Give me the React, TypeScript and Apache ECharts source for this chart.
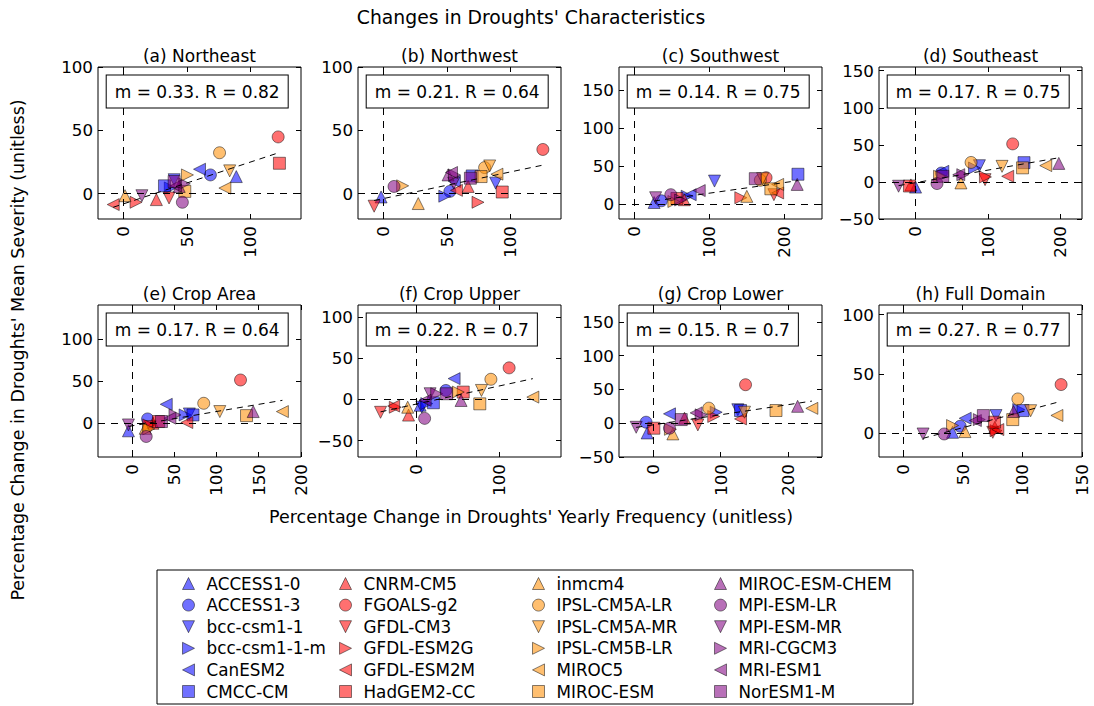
import React, { useEffect, useRef } from "react";
import * as echarts from "echarts";

const FONT = '"DejaVu Sans", sans-serif';

// CMIP5 models, grouped six per colour
const MODELS = [
  "ACCESS1-0", "ACCESS1-3", "bcc-csm1-1", "bcc-csm1-1-m", "CanESM2", "CMCC-CM",
  "CNRM-CM5", "FGOALS-g2", "GFDL-CM3", "GFDL-ESM2G", "GFDL-ESM2M", "HadGEM2-CC",
  "inmcm4", "IPSL-CM5A-LR", "IPSL-CM5A-MR", "IPSL-CM5B-LR", "MIROC5", "MIROC-ESM",
  "MIROC-ESM-CHEM", "MPI-ESM-LR", "MPI-ESM-MR", "MRI-CGCM3", "MRI-ESM1", "NorESM1-M",
];
const GROUP_COLORS = [
  "rgba(0,0,255,0.7)",
  "rgba(255,0,0,0.7)",
  "rgba(255,140,0,0.7)",
  "rgba(128,0,128,0.7)",
];
const EDGE = "rgba(0,0,0,0.6)";
const SHAPES = ["up", "circle", "down", "right", "left", "square"];

const PANEL_TITLES = [
  "(a) Northeast", "(b) Northwest", "(c) Southwest", "(d) Southeast",
  "(e) Crop Area", "(f) Crop Upper", "(g) Crop Lower", "(h) Full Domain",
];
const SLOPES = [0.33, 0.21, 0.14, 0.17, 0.17, 0.22, 0.15, 0.27];
const CORRS = [0.82, 0.64, 0.75, 0.75, 0.64, 0.7, 0.7, 0.77];

const X_MIN = [-20, -20, -20, -50, -40, -70, -50, -20];
const X_MAX = [140, 140, 250, 230, 200, 175, 250, 150];
const Y_MIN = [-20, -20, -20, -50, -40, -70, -50, -20];
const Y_MAX = [100, 100, 180, 155, 140, 115, 175, 108];
const X_TICKS = [
  [0, 50, 100], [0, 50, 100], [0, 100, 200], [0, 100, 200],
  [0, 50, 100, 150, 200], [0, 100], [0, 100, 200], [0, 50, 100, 150],
];
const Y_TICKS = [
  [0, 50, 100], [0, 50, 100], [0, 50, 100, 150], [-50, 0, 50, 100, 150],
  [0, 50, 100], [-50, 0, 50, 100], [-50, 0, 50, 100, 150], [0, 50, 100],
];

// [frequency change %, severity change %] per model, in MODELS order
const NORTHEAST = [
  [89, 13.5], [68.6, 14.8], [40, 11], [37, 4.5], [60, 19.3], [32.4, 6.2],
  [26, -4.7], [122, 44.8], [36, -3.4], [10, -6.8], [-8, -8.6], [123, 24],
  [1.3, -1.6], [75.8, 32.3], [83.8, 18], [50.5, 14.8], [80, 4.4], [48.4, 1.8],
  [44, 5.7], [46.5, -6.8], [14.6, -1.6], [48, 7.8], [41, 6], [40, 9.6],
];
const NORTHWEST = [
  [-1.8, -2.6], [52.4, 1.8], [88.5, 8.3], [48.4, -2], [56, 9.6], [70, 14],
  [66.8, 5.7], [125.7, 34.9], [-7.3, -9.9], [74.6, -6.8], [57.6, 2.6], [93.7, 1.3],
  [27.5, -7.8], [79.8, 20.6], [83.8, 21.9], [15.2, 6.2], [89.5, 15.4], [77, 13.5],
  [51, 14.8], [8.4, 5.7], [55.5, 8.3], [56, 14.8], [53.7, 16.7], [68.6, 12.2],
];
const SOUTHWEST = [
  [26.7, 1.7], [36.4, 4], [107, 29.9], [70.7, 10], [74.7, 12], [218, 38.9],
  [66.7, 5.4], [175.6, 34.4], [186, 12], [142, 8], [191, 14.3], [57, 7],
  [150, 9.8], [168, 31], [171, 33], [53, 3], [191, 25.5], [182, 19.7],
  [217, 25.5], [48.9, 12], [28.7, 8], [62, 5], [86.7, 17.4], [161.3, 33.1],
];
const SOUTHEAST = [
  [0.4, -7], [36, 12], [88.5, 21.9], [81.7, 18.8], [38, 14.3], [150, 26],
  [-6, -4], [134.4, 51.3], [96.3, 3.1], [96.8, 6.7], [127.5, 7.6], [-8, -5.5],
  [63, -1.3], [77, 26.3], [119.7, 21], [33.5, 7.6], [180, 22], [148, 19],
  [198, 25], [30, -2.2], [-23, -5.8], [65.6, 9.8], [60, 9.8], [38, 7.6],
];
const CROP_AREA = [
  [-4, -9], [18.6, 5.1], [68, 11], [63, 9.8], [40.7, 22.4], [72.3, 9.8],
  [25, 0], [128.5, 51.2], [21.7, -4], [20, -2], [65, 0.8], [31.6, 2],
  [15.8, -6], [85, 23.6], [104, 13.8], [20, -6.7], [178, 13.8], [135.6, 9],
  [143.5, 13.8], [17, -15.7], [-4, -2], [51, 9.8], [45, 6], [35, 2],
];
const CROP_UPPER = [
  [5, -7], [36, 11], [7, -9.4], [13, -5], [46, 25.4], [21, -4],
  [-9, -19], [112.4, 38.5], [-42.8, -15.6], [-25, -9.4], [-27, -8], [57, 9],
  [-10, -9.4], [90.4, 24.6], [79, 11], [51, 9], [141, 2.9], [77, -5.3],
  [54.4, -1.2], [10.4, -23], [17, 7], [25, 7], [11, -1], [37, 7],
];
const CROP_LOWER = [
  [-8.4, -14.4], [-10, 1.5], [125.6, 20], [93.6, 16.3], [24.6, 13.9], [129.6, 18.8],
  [46.8, 7.4], [137, 57], [66.5, -2.5], [90, 10], [129.6, 6.4], [1.5, -7.4],
  [29.6, -15.8], [82.8, 22.3], [135.5, 16.3], [26, -9], [235, 22], [182, 18.8],
  [214, 25], [24.6, -7.4], [-24.6, -6], [71.4, 12.4], [64, 15.3], [42, 5.4],
];
const FULL_DOMAIN = [
  [41.6, 0.8], [48, 5.9], [78, 14.9], [97, 20], [52.2, 12.6], [100.6, 19.1],
  [77, 5], [132.5, 41], [75.3, 0.8], [78, 2.2], [79.5, 3.1], [76.7, 9.3],
  [52, 1.4], [96.3, 28.9], [107, 19], [41.6, 6.5], [129, 15], [92, 11.5],
  [92.7, 18.3], [34.6, -0.6], [16.9, -0.6], [64, 11.5], [60.7, 10.7], [67.4, 14.9],
];
const PANELS = [
  NORTHEAST, NORTHWEST, SOUTHWEST, SOUTHEAST,
  CROP_AREA, CROP_UPPER, CROP_LOWER, FULL_DOMAIN,
];

// layout
const GRID_LEFTS = [98, 358, 619, 879];
const ROW_TOPS = [67, 305];
const GRID_W = 203;
const GRID_H = 152;

const SYMBOLS: Record<string, { symbol: string; rotate: number; icon: string }> = {
  up: { symbol: "triangle", rotate: 0, icon: "path://M5,0L10,10L0,10Z" },
  circle: { symbol: "circle", rotate: 0, icon: "circle" },
  down: { symbol: "triangle", rotate: 180, icon: "path://M0,0L10,0L5,10Z" },
  right: { symbol: "triangle", rotate: -90, icon: "path://M0,0L10,5L0,10Z" },
  left: { symbol: "triangle", rotate: 90, icon: "path://M10,0L0,5L10,10Z" },
  square: { symbol: "rect", rotate: 0, icon: "path://M0,0L10,0L10,10L0,10Z" },
};

const fmt = (v: number) => (v < 0 ? "\u2212" + Math.abs(v) : String(v));

function fitLine(points: number[][], m: number) {
  const n = points.length;
  const mx = points.reduce((s, p) => s + p[0], 0) / n;
  const my = points.reduce((s, p) => s + p[1], 0) / n;
  const b = my - m * mx;
  const xs = points.map((p) => p[0]);
  const x0 = Math.min(...xs);
  const x1 = Math.max(...xs);
  return [
    [x0, m * x0 + b],
    [x1, m * x1 + b],
  ];
}

function buildOption() {
  const grid: any[] = [];
  const xAxis: any[] = [];
  const yAxis: any[] = [];
  const series: any[] = [];
  const graphic: any[] = [];

  const tickStyle = (values: number[]) => ({
    show: true,
    inside: true,
    length: 5,
    lineStyle: { color: "#000", width: 1 },
    customValues: values,
  });

  PANELS.forEach((points, i) => {
    const left = GRID_LEFTS[i % 4];
    const top = ROW_TOPS[Math.floor(i / 4)];
    grid.push({
      left, top, width: GRID_W, height: GRID_H,
      show: true, borderColor: "#000", borderWidth: 1, backgroundColor: "#fff",
      containLabel: false, outerBoundsMode: "none",
    });
    const xBase = {
      type: "value", gridIndex: i, min: X_MIN[i], max: X_MAX[i],
      axisLine: { show: false, onZero: false }, splitLine: { show: false },
      axisTick: tickStyle(X_TICKS[i]),
    };
    const yBase = {
      type: "value", gridIndex: i, min: Y_MIN[i], max: Y_MAX[i],
      axisLine: { show: false, onZero: false }, splitLine: { show: false },
      axisTick: tickStyle(Y_TICKS[i]),
    };
    xAxis.push({
      ...xBase, position: "bottom",
      axisLabel: {
        show: true, customValues: X_TICKS[i], rotate: 90, margin: 7,
        color: "#000", fontSize: 16.7, fontFamily: FONT, formatter: fmt,
      },
    });
    xAxis.push({ ...xBase, position: "top", axisLabel: { show: false } });
    yAxis.push({
      ...yBase, position: "left",
      axisLabel: {
        show: true, customValues: Y_TICKS[i], margin: 5,
        color: "#000", fontSize: 16.7, fontFamily: FONT, formatter: fmt,
      },
    });
    yAxis.push({ ...yBase, position: "right", axisLabel: { show: false } });

    points.forEach((pt, j) => {
      const shp = SYMBOLS[SHAPES[j % 6]];
      series.push({
        type: "scatter",
        name: MODELS[j],
        xAxisIndex: 2 * i,
        yAxisIndex: 2 * i,
        data: [pt],
        symbol: shp.symbol,
        symbolRotate: shp.rotate,
        symbolSize: 12,
        itemStyle: {
          color: GROUP_COLORS[Math.floor(j / 6)],
          borderColor: EDGE,
          borderWidth: 1,
        },
        z: 2,
      });
    });

    series.push({
      type: "line",
      xAxisIndex: 2 * i,
      yAxisIndex: 2 * i,
      data: fitLine(points, SLOPES[i]),
      symbol: "none",
      silent: true,
      lineStyle: { color: "#000", width: 1, type: [6, 5] },
      z: 4,
      markLine: {
        silent: true,
        symbol: "none",
        label: { show: false },
        lineStyle: { color: "#000", width: 1, type: [7, 6] },
        data: [{ yAxis: 0 }, { xAxis: 0 }],
      },
    });

    graphic.push({
      type: "text",
      x: left + GRID_W / 2,
      y: top - 11,
      style: {
        text: PANEL_TITLES[i],
        font: `17px ${FONT}`,
        fill: "#000",
        align: "center",
        verticalAlign: "middle",
      },
    });
    graphic.push({
      type: "text",
      x: left + 8.7,
      y: top + 8.5,
      z: 10,
      style: {
        text: `m = ${SLOPES[i]}. R = ${CORRS[i]}`,
        font: `17px ${FONT}`,
        fill: "#000",
        align: "left",
        verticalAlign: "top",
        lineHeight: 19,
        backgroundColor: "#fff",
        borderColor: "#000",
        borderWidth: 1,
        padding: [6.5, 8, 6.5, 8],
      },
    });
  });

  graphic.push({
    type: "text",
    x: 531,
    y: 17,
    style: {
      text: "Changes in Droughts' Characteristics",
      font: `18.8px ${FONT}`,
      fill: "#000",
      align: "center",
      verticalAlign: "middle",
    },
  });
  graphic.push({
    type: "text",
    x: 531,
    y: 517,
    style: {
      text: "Percentage Change in Droughts' Yearly Frequency (unitless)",
      font: `17.5px ${FONT}`,
      fill: "#000",
      align: "center",
      verticalAlign: "middle",
    },
  });
  graphic.push({
    type: "text",
    x: 18,
    y: 350,
    rotation: Math.PI / 2,
    style: {
      text: "Percentage Change in Droughts' Mean Severity (unitless)",
      font: `17.5px ${FONT}`,
      fill: "#000",
      align: "center",
      verticalAlign: "middle",
    },
  });
  graphic.push({
    type: "rect",
    z: 0,
    shape: { x: 157, y: 570, width: 756, height: 134 },
    style: { fill: "#fff", stroke: "#000", lineWidth: 1 },
  });

  // legend columns: icon box 26px wide, label starts 5px after it
  const legendLefts = [182, 339, 532, 714];
  const legend = legendLefts.map((l, c) => ({
    orient: "vertical",
    left: l,
    top: 575,
    padding: 0,
    itemGap: 4.6,
    itemWidth: 26,
    itemHeight: 12,
    symbolKeepAspect: true,
    symbolRotate: 0,
    z: 10,
    itemStyle: { borderColor: EDGE, borderWidth: 1 },
    textStyle: { fontSize: 16.8, fontFamily: FONT, color: "#000", lineHeight: 16 },
    data: MODELS.slice(c * 6, c * 6 + 6).map((name, k) => ({
      name,
      icon: SYMBOLS[SHAPES[k]].icon,
    })),
  }));

  return {
    animation: false,
    backgroundColor: "#fff",
    grid,
    xAxis,
    yAxis,
    legend,
    series,
    graphic,
  };
}

export default function App() {
  const ref = useRef<HTMLDivElement>(null);
  useEffect(() => {
    document.body.style.margin = "0";
    if (!ref.current) return;
    const chart = echarts.init(ref.current, undefined, { renderer: "svg" });
    chart.setOption(buildOption() as any);
    return () => chart.dispose();
  }, []);
  return (
    <div
      ref={ref}
      style={{ position: "absolute", left: 0, top: 0, width: 1094, height: 706 }}
    />
  );
}
